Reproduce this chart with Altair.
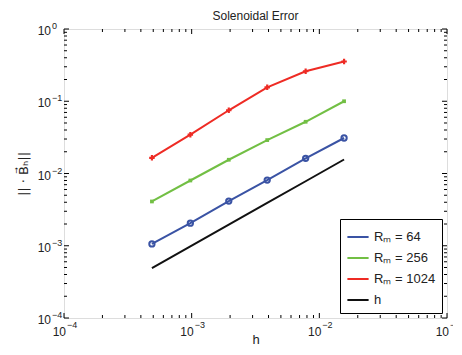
import altair as alt
import pandas as pd

# data
h = [1/2048, 1/1024, 1/512, 1/256, 1/128, 1/64]
err_64 = [0.00106, 0.00205, 0.00415, 0.0081, 0.0162, 0.031]
err_256 = [0.0041, 0.0080, 0.0155, 0.029, 0.052, 0.100]
err_1024 = [0.0165, 0.0345, 0.075, 0.156, 0.26, 0.355]
ref_h = h

names = ["Rₘ = 64", "Rₘ = 256", "Rₘ = 1024", "h"]
colors = ["#3a53a4", "#72bf44", "#ee2b24", "#111111"]

x_major = [1e-4, 1e-3, 1e-2, 1e-1]
x_exp = ["−4", "−3", "−2", "−1"]
y_major = [1e-4, 1e-3, 1e-2, 1e-1, 1]
y_exp = ["−4", "−3", "−2", "−1", "0"]
title_text = "Solenoidal Error"

rows = []
for name, vals in zip(names, [err_64, err_256, err_1024, ref_h]):
    for x, y in zip(h, vals):
        rows.append({"h": x, "err": y, "series": name})
df = pd.DataFrame(rows)

W, H = 383, 289
FONT = "Liberation Sans"
xscale = alt.Scale(type="log", domain=[1e-4, 1e-1], nice=False)
yscale = alt.Scale(type="log", domain=[1e-4, 1], nice=False)

xaxis = alt.Axis(values=x_major, labels=False, ticks=False, grid=False, domain=False,
                 titleFontSize=13, titleFontWeight="normal", titleColor="#222",
                 title="h", titlePadding=15, titleFont=FONT)
yaxis = alt.Axis(values=y_major, labels=False, ticks=False, grid=False, domain=False,
                 titleFontSize=13, titleFontWeight="normal", titleColor="#222",
                 title="||  · B⃗ₕ||", titlePadding=34, titleFont="DejaVu Sans")

color = alt.Color("series:N", scale=alt.Scale(domain=names, range=colors), sort=names,
                  legend=alt.Legend(title=None, orient="bottom-right", offset=5, symbolType="stroke",
                                    symbolStrokeWidth=2, symbolSize=450, labelFontSize=13,
                                    labelColor="#222", strokeColor="black", fillColor="white",
                                    padding=6, rowPadding=2, labelFont=FONT))

lines = alt.Chart(df).mark_line(strokeWidth=2).encode(
    x=alt.X("h:Q", scale=xscale, axis=xaxis),
    y=alt.Y("err:Q", scale=yscale, axis=yaxis),
    color=color,
)

def pts(name, shape, filled, size, col):
    return alt.Chart(df[df.series == name]).mark_point(
        shape=shape, filled=filled, size=size, color=col, strokeWidth=2, opacity=1
    ).encode(x=alt.X("h:Q", scale=xscale), y=alt.Y("err:Q", scale=yscale))

p64 = pts(names[0], "circle", False, 28, colors[0])
p256 = pts(names[1], "square", True, 14, colors[1])
p1024 = pts(names[2], "cross", True, 30, colors[2])

# tick positions
x_minor = [k * 10.0 ** d for d in (-4, -3, -2) for k in range(2, 10)]
y_minor = [k * 10.0 ** d for d in (-4, -3, -2, -1) for k in range(2, 10)]

def xt(vals, y0, y1):
    return alt.Chart(pd.DataFrame({"v": vals})).mark_rule(color="black", strokeWidth=1).encode(
        x=alt.X("v:Q", scale=xscale), y=alt.value(y0), y2=alt.value(y1))

def yt(vals, x0, x1):
    return alt.Chart(pd.DataFrame({"v": vals})).mark_rule(color="black", strokeWidth=1).encode(
        y=alt.Y("v:Q", scale=yscale), x=alt.value(x0), x2=alt.value(x1))

ticks = [
    xt(x_major, H, H - 5), xt(x_minor, H, H - 3), xt(x_major, 0, 5), xt(x_minor, 0, 3),
    yt(y_major, 0, 5), yt(y_minor, 0, 3), yt(y_major, W, W - 5), yt(y_minor, W, W - 3),
]

# tick labels: "10" plus superscript exponent
xl = pd.DataFrame({"v": x_major, "e": x_exp, "b": ["10"] * 4})
yl = pd.DataFrame({"v": y_major, "e": y_exp, "b": ["10"] * 5})

x_base = alt.Chart(xl).mark_text(align="right", baseline="middle", fontSize=12, font=FONT,
                                  color="#222", dx=2).encode(
    x=alt.X("v:Q", scale=xscale), y=alt.value(H + 14), text="b:N")
x_sup = alt.Chart(xl).mark_text(align="left", baseline="middle", fontSize=9, font=FONT,
                                 color="#222", dx=3).encode(
    x=alt.X("v:Q", scale=xscale), y=alt.value(H + 7), text="e:N")
y_base = alt.Chart(yl).mark_text(align="right", baseline="middle", fontSize=12, font=FONT,
                                  color="#222", dy=2).encode(
    y=alt.Y("v:Q", scale=yscale), x=alt.value(-13), text="b:N")
y_sup = alt.Chart(yl).mark_text(align="left", baseline="middle", fontSize=9, font=FONT,
                                 color="#222", dy=-3).encode(
    y=alt.Y("v:Q", scale=yscale), x=alt.value(-12), text="e:N")

title = alt.Chart(pd.DataFrame({"t": [title_text]})).mark_text(
    align="center", baseline="alphabetic", fontSize=12, font=FONT, color="#222"
).encode(x=alt.value(W / 2), y=alt.value(-9), text="t:N")

chart = alt.layer(lines, p64, p256, p1024, *ticks, x_base, x_sup, y_base, y_sup, title).properties(
    width=W, height=H,
    autosize=alt.AutoSizeParams(type="none"),
    padding={"left": 56, "top": 21, "right": 6, "bottom": 28},
).configure_view(stroke="black", strokeWidth=1.5).configure(font=FONT)

chart.save("out.html", embed_options={"renderer": "svg", "actions": False})
